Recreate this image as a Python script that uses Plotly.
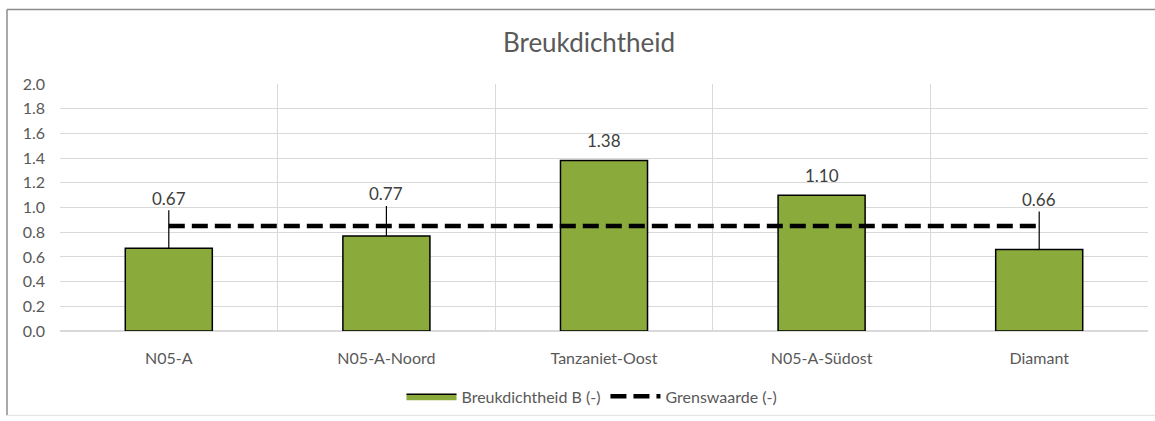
import plotly.graph_objects as go

categories = ["N05-A", "N05-A-Noord", "Tanzaniet-Oost", "N05-A-Südost", "Diamant"]
breukdichtheid = [0.67, 0.77, 1.38, 1.10, 0.66]
grenswaarde = [0.85, 0.85, 0.85, 0.85, 0.85]
y_ticks = [0.0, 0.2, 0.4, 0.6, 0.8, 1.0, 1.2, 1.4, 1.6, 1.8, 2.0]

# label styling: pixel offset of data label above bar top (leader line when large)
label_offsets = [-50, -42, -20, -20, -50]
leader = [True, True, False, False, True]

FONT = "Lato"
GREEN = "#8BAA3C"
fig = go.Figure()
fig.add_trace(go.Bar(
    x=categories, y=breukdichtheid, name="Breukdichtheid B (-)",
    marker=dict(color=GREEN, line=dict(color="black", width=1.5)),
    width=0.4, showlegend=False,
))
# legend stand-in for the bar series (wide filled box)
fig.add_trace(go.Scatter(
    x=[None], y=[None], name="Breukdichtheid B (-)", mode="lines", fill="toself",
    fillcolor=GREEN, line=dict(color="black", width=1.5),
))
fig.add_trace(go.Scatter(
    x=categories, y=grenswaarde, name="Grenswaarde (-)", mode="lines",
    line=dict(color="black", width=4.5, dash="16px,7px"),
))

for c, v, off, ld in zip(categories, breukdichtheid, label_offsets, leader):
    if ld:
        fig.add_annotation(x=c, y=v, text=f"{v:.2f}", showarrow=True, arrowhead=0,
                           arrowwidth=1.2, arrowcolor="black", ax=0, ay=off,
                           standoff=0, font=dict(family=FONT, size=17, color="#404040"))
    else:
        fig.add_annotation(x=c, y=v, text=f"{v:.2f}", showarrow=False,
                           yshift=-off, yanchor="middle",
                           font=dict(family=FONT, size=17, color="#404040"))

W, H = 1155, 421
L, R, T, B = 60, 7, 84, 88
pw, ph = W - L - R, H - T - B
def px(x):
    return (x - L) / pw
def py(y):
    return (H - B - y) / ph

fig.add_shape(type="line", xref="paper", yref="paper", x0=px(7), x1=px(7), y0=py(9), y1=py(418),
              line=dict(color="#8c8c8c", width=1.5))
fig.add_shape(type="line", xref="paper", yref="paper", x0=px(7), x1=px(1160), y0=py(9), y1=py(9),
              line=dict(color="#8c8c8c", width=1.5))
fig.add_shape(type="line", xref="paper", yref="paper", x0=px(7), x1=px(1160), y0=py(418), y1=py(418),
              line=dict(color="#e0e0e0", width=1))

fig.update_layout(
    width=W, height=H, margin=dict(l=L, r=R, t=T, b=B),
    paper_bgcolor="white", plot_bgcolor="white",
    font=dict(family=FONT, color="#595959"),
    title=dict(text="Breukdichtheid", x=589 / W, xref="container", xanchor="center",
               y=1 - 43 / H, yref="container", yanchor="middle",
               font=dict(family=FONT, size=26, color="#595959")),
    showlegend=True,
    legend=dict(orientation="h", x=px(592), xanchor="center", y=py(399), yanchor="middle",
                font=dict(family=FONT, size=16, color="#595959"), itemwidth=50,
                bgcolor="rgba(0,0,0,0)"),
    bargap=0.6,
)
fig.update_xaxes(type="category", tickson="boundaries", showgrid=True, gridcolor="#D9D9D9",
                 gridwidth=1, ticks="", showline=False, ticklabelstandoff=16,
                 tickfont=dict(family=FONT, size=16, color="#595959"))
fig.update_yaxes(range=[0, 2.0], tickvals=y_ticks, tickformat=".1f", showgrid=True,
                 gridcolor="#D9D9D9", gridwidth=1, zeroline=True, zerolinecolor="#D9D9D9",
                 ticks="", showline=False, ticklabelstandoff=14,
                 tickfont=dict(family=FONT, size=16, color="#595959"))

fig.write_html("out.html", config={"displayModeBar": False},
               post_script="document.body.style.margin='0';")
